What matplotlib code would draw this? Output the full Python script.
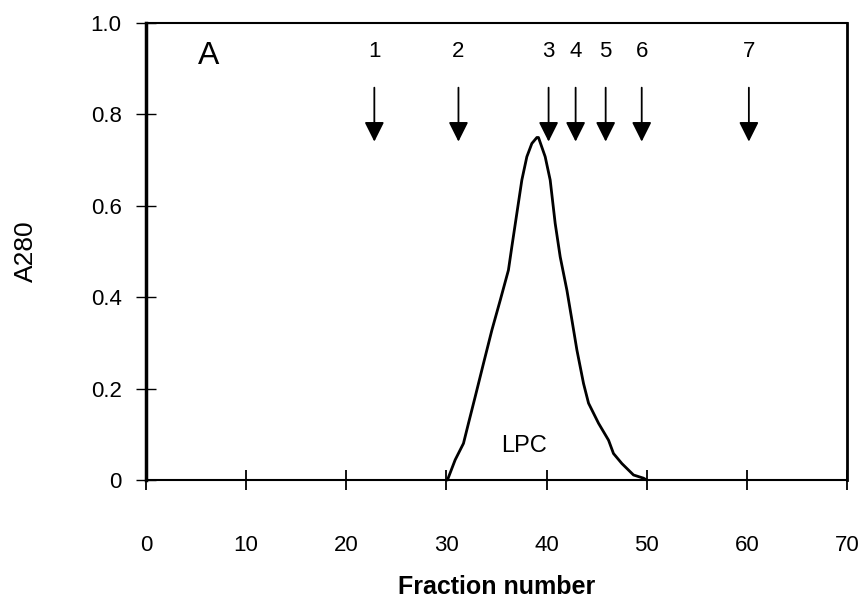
import matplotlib.pyplot as plt

plt.rcParams['font.family'] = ['Liberation Sans', 'DejaVu Sans']

# elution profile (fraction number vs A280)
fraction = [30.1, 30.87, 31.70, 32.20, 32.87, 33.70, 34.54, 35.37, 36.19, 36.53,
            37.03, 37.53, 38.03, 38.53, 39.03, 39.19, 39.86, 40.36, 40.86, 41.36,
            42.03, 42.53, 43.03, 43.69, 44.19, 45.19, 46.19, 46.68, 47.52, 48.68,
            49.68, 50.0]
a280 = [0.0, 0.044, 0.080, 0.124, 0.182, 0.255, 0.328, 0.393, 0.459, 0.510,
        0.583, 0.656, 0.707, 0.736, 0.749, 0.749, 0.707, 0.656, 0.561, 0.488,
        0.415, 0.350, 0.284, 0.211, 0.168, 0.124, 0.087, 0.058, 0.036, 0.011,
        0.004, 0.0]

# marker arrows
marker_labels = ['1', '2', '3', '4', '5', '6', '7']
marker_x = [22.8, 31.2, 40.2, 42.9, 45.9, 49.5, 60.2]

x_ticks = [0, 10, 20, 30, 40, 50, 60, 70]
y_ticks = [0, 0.2, 0.4, 0.6, 0.8, 1.0]
y_ticklabels = ['0', '0.2', '0.4', '0.6', '0.8', '1.0']

fig = plt.figure(figsize=(8.65, 6.01), dpi=100)
ax = fig.add_axes([0.1688, 0.2013, 0.8104, 0.7609])

ax.plot(fraction, a280, color='black', lw=2, clip_on=False,
        solid_joinstyle='round', solid_capstyle='round')

for lab, x in zip(marker_labels, marker_x):
    ax.annotate('', xy=(x, 0.74), xytext=(x, 0.858),
                arrowprops=dict(arrowstyle='-|>,head_length=0.6,head_width=0.3',
                                mutation_scale=20, lw=1.3, color='black',
                                shrinkA=0, shrinkB=0))
    ax.text(x, 0.936, lab, ha='center', va='center', fontsize=16)

ax.text(6.3, 0.927, 'A', ha='center', va='center', fontsize=23)
ax.text(37.7, 0.074, 'LPC', ha='center', va='center', fontsize=17)

ax.set_xlim(0, 70)
ax.set_ylim(0, 1.0)
ax.set_xticks(x_ticks)
ax.set_yticks(y_ticks)
ax.set_yticklabels(y_ticklabels)

ax.tick_params(axis='x', direction='inout', length=15, width=1.3, pad=32, labelsize=16)
ax.tick_params(axis='y', direction='inout', length=15, width=1.0, pad=10, labelsize=16)

ax.spines['left'].set_linewidth(2.5)
ax.spines['right'].set_linewidth(2.0)
ax.spines['top'].set_linewidth(1.5)
ax.spines['bottom'].set_linewidth(1.5)

ax.set_xlabel('Fraction number', fontsize=18, fontweight='bold', labelpad=14)
ax.set_ylabel('A280', fontsize=19, labelpad=38)

fig.savefig('out.png', dpi=100)
